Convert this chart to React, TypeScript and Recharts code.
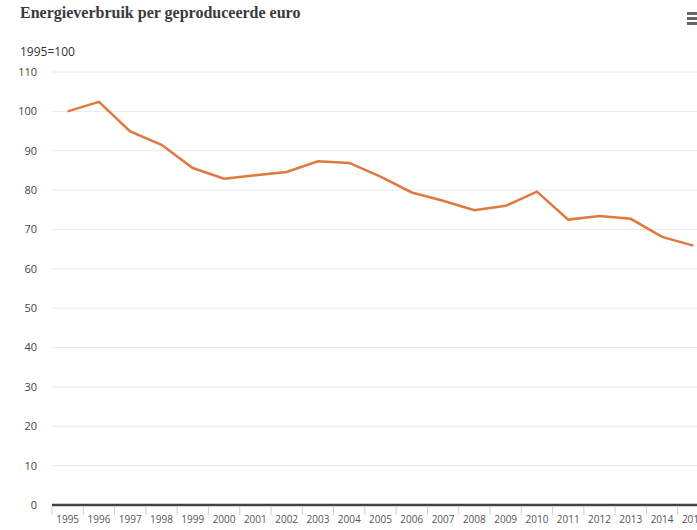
import React from "react";
import { LineChart, Line, XAxis, YAxis, CartesianGrid } from "recharts";

const years = [
  "1995", "1996", "1997", "1998", "1999", "2000", "2001", "2002", "2003", "2004",
  "2005", "2006", "2007", "2008", "2009", "2010", "2011", "2012", "2013", "2014", "2015",
];
const energyIndex = [
  100, 102.4, 94.9, 91.5, 85.6, 82.9, 83.8, 84.6, 87.3, 86.9,
  83.4, 79.4, 77.3, 74.9, 76.0, 79.6, 72.5, 73.4, 72.7, 68.1, 65.9,
];
const yTicks = [0, 10, 20, 30, 40, 50, 60, 70, 80, 90, 100, 110];

const data = years.map((year, i) => ({ year, value: energyIndex[i] }));

const XTick = (props: any) => {
  const { x, y, payload, index } = props;
  const half = payload && payload.offset ? payload.offset : 657 / 21 / 2;
  return (
    <g>
      <line x1={x - half} y1={y + 1} x2={x - half} y2={y + 10} stroke="#cfcfcf" strokeWidth={1} />
      {index === years.length - 1 && (
        <line x1={x + half} y1={y + 1} x2={x + half} y2={y + 10} stroke="#cfcfcf" strokeWidth={1} />
      )}
      <text
        x={x}
        y={y + 18}
        textAnchor="middle"
        fill="#555"
        fontSize={10}
        fontFamily="'Open Sans', sans-serif"
      >
        {payload.value}
      </text>
    </g>
  );
};

export default function App() {
  return (
    <div
      style={{
        position: "absolute",
        left: 0,
        top: 0,
        width: 697,
        height: 530,
        overflow: "hidden",
        background: "#fff",
      }}
    >
      <div
        style={{
          position: "absolute",
          left: 20,
          top: 4,
          fontFamily: "'Liberation Serif', serif",
          fontWeight: "bold",
          fontSize: 16,
          color: "#3a3a3a",
          whiteSpace: "nowrap",
        }}
      >
        Energieverbruik per geproduceerde euro
      </div>
      <div
        style={{
          position: "absolute",
          left: 20,
          top: 43,
          fontFamily: "'Open Sans', sans-serif",
          fontSize: 12,
          color: "#333",
          whiteSpace: "nowrap",
        }}
      >
        1995=100
      </div>
      <div style={{ position: "absolute", left: 687, top: 12 }}>
        {[0, 5, 10].map((t) => (
          <div
            key={t}
            style={{ position: "absolute", left: 0, top: t, width: 12, height: 2.5, background: "#666" }}
          />
        ))}
      </div>
      <div style={{ position: "absolute", left: 0, top: 0 }}>
        <LineChart
          width={720}
          height={530}
          data={data}
          margin={{ top: 72, right: 11, bottom: 0, left: 0 }}
        >
          <CartesianGrid vertical={false} stroke="#e8e8e8" strokeWidth={1} />
          <XAxis
            dataKey="year"
            scale="band"
            height={25}
            interval={0}
            tickSize={0}
            tickMargin={0}
            tickLine={false}
            axisLine={{ stroke: "#444", strokeWidth: 2.5 }}
            tick={<XTick />}
          />
          <YAxis
            width={52}
            domain={[0, 110]}
            ticks={yTicks}
            interval={0}
            axisLine={false}
            tickLine={false}
            tickSize={0}
            tickMargin={15}
            tick={{ fill: "#444", fontSize: 11, fontFamily: "'Open Sans', sans-serif" }}
          />
          <Line
            type="linear"
            dataKey="value"
            stroke="#e07840"
            strokeWidth={2.5}
            dot={false}
            activeDot={false}
            isAnimationActive={false}
          />
        </LineChart>
      </div>
    </div>
  );
}
